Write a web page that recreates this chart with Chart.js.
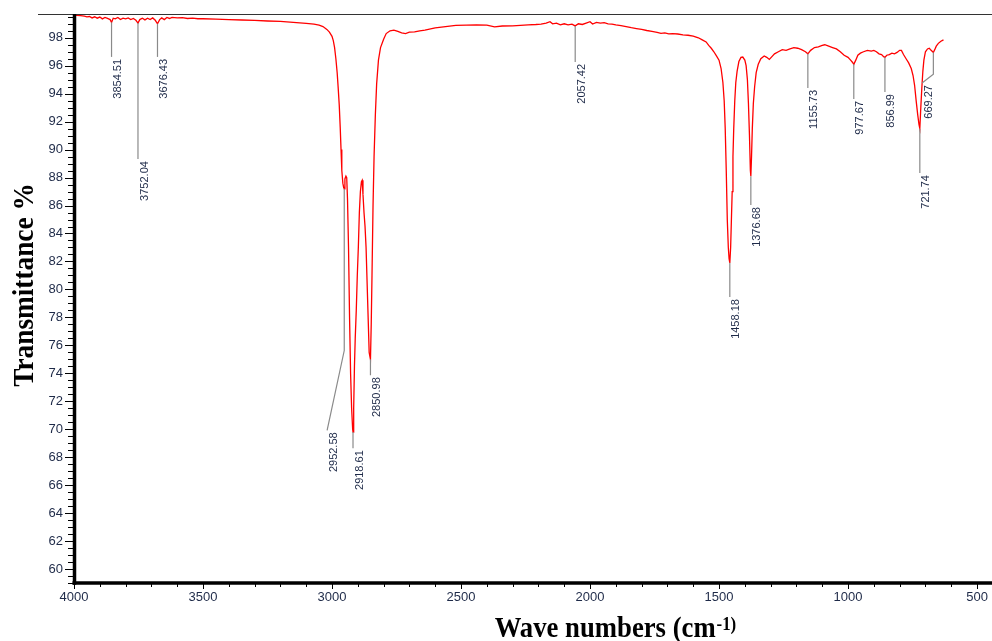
<!DOCTYPE html>
<html>
<head>
<meta charset="utf-8">
<script src="https://cdn.jsdelivr.net/npm/chart.js@4.4.1/dist/chart.umd.min.js"></script>
<style>
html,body{margin:0;padding:0;background:#fff;}
#wrap{width:992px;height:641px;position:relative;}
</style>
</head>
<body>
<div id="wrap"><canvas id="c" width="992" height="641"></canvas></div>
<script>
// ---- data ----
const waveNumbers = [
4000,3990,3975,3960,3950,3940,3930,3920,3910,3900,3890,3880,3870,3860,3854.51,3848,3840,3830,3820,3810,
3800,3790,3780,3770,3760,3752.04,3745,3735,3725,3715,3705,3695,3685,3676.43,3668,3660,3650,3640,3630,3620,
3600,3580,3560,3540,3520,3500,3450,3400,3350,3300,3250,3200,3150,3100,3070,3050,3035,3020,3010,3000,
2995,2990,2985,2980,2976,2972,2968,2965,2962,2958,2955,2952.58,2950,2946,2943,2940,2936,2932,2928,2924,
2920,2918.61,2916,2913,2910,2906,2902,2898,2894,2890,2886,2883,2880,2876,2872,2868,2864,2860,2856,2850.98,
2848,2845,2841,2837,2832,2827,2820,2812,2800,2790,2775,2760,2745,2730,2715,2700,2680,2660,2640,2600,
2560,2520,2480,2440,2400,2370,2340,2300,2270,2240,2210,2190,2170,2155,2145,2130,2115,2100,2085,2070,
2057.42,2045,2030,2015,2000,1990,1975,1960,1945,1930,1915,1900,1880,1860,1840,1820,1800,1780,1760,1740,
1725,1710,1695,1680,1660,1640,1620,1600,1580,1565,1550,1540,1530,1520,1510,1500,1492,1485,1480,1476,
1472,1468,1464,1461,1458.18,1455,1452,1449,1446,1443,1439,1435,1430,1423,1415,1408,1400,1395,1390,1386,
1382,1378.5,1376.68,1374,1371,1367,1362,1356,1348,1338,1325,1315,1305,1295,1285,1270,1255,1240,1225,1210,
1195,1180,1165,1155.73,1145,1130,1115,1100,1090,1075,1060,1045,1030,1015,1000,990,983,977.67,970,962,
952,940,925,910,900,890,880,870,862,856.99,850,840,830,820,810,800,793,785,775,765,
755,748,742,736,730,725,721.74,718,714,710,706,700,692,685,678,672,669.27,664,658,650,
640,630
];
const transmittance = [
99.62,99.60,99.58,99.55,99.50,99.52,99.42,99.50,99.40,99.48,99.35,99.45,99.38,99.30,99.10,99.40,99.35,99.45,99.30,99.40,
99.35,99.42,99.30,99.38,99.25,99.05,99.30,99.40,99.28,99.40,99.30,99.42,99.25,99.00,99.30,99.42,99.30,99.45,99.38,99.46,
99.42,99.44,99.38,99.40,99.36,99.36,99.33,99.30,99.27,99.24,99.20,99.17,99.10,99.03,98.97,98.90,98.80,98.60,98.40,98.10,
97.80,97.30,96.50,95.50,94.40,93.20,91.50,90.00,88.50,87.60,87.30,87.20,87.90,88.10,88.00,86.50,83.00,78.00,74.00,71.50,
70.00,69.80,71.50,74.50,76.50,78.50,81.00,83.00,85.50,87.00,87.70,87.80,86.80,85.50,84.50,83.00,80.50,78.00,75.50,75.00,
77.50,81.00,86.00,89.50,92.50,94.70,96.40,97.30,97.90,98.30,98.50,98.55,98.45,98.35,98.30,98.40,98.42,98.50,98.55,98.70,
98.80,98.88,98.90,98.92,98.90,98.78,98.84,98.85,98.88,98.92,98.95,98.98,99.05,99.15,99.00,99.05,98.92,99.00,98.93,98.98,
98.85,99.00,98.95,99.05,99.15,98.98,99.10,99.05,99.08,99.00,98.98,98.92,98.87,98.80,98.72,98.66,98.60,98.52,98.45,98.38,
98.32,98.35,98.28,98.30,98.27,98.20,98.18,98.12,98.00,97.85,97.70,97.45,97.25,97.00,96.70,96.40,95.80,94.80,93.50,91.50,
88.50,85.00,83.00,82.20,81.90,83.00,85.00,87.00,89.50,91.50,93.50,94.80,95.60,96.30,96.60,96.62,96.40,96.00,95.00,93.30,
91.00,88.50,88.10,89.50,91.50,93.30,94.50,95.50,96.10,96.50,96.70,96.60,96.45,96.65,96.85,97.00,97.15,97.10,97.20,97.30,
97.25,97.15,97.00,96.85,97.10,97.30,97.35,97.45,97.50,97.40,97.30,97.20,97.00,96.75,96.60,96.40,96.25,96.10,96.40,96.75,
96.90,97.00,97.10,97.05,97.10,97.00,96.85,96.80,96.65,96.60,96.75,96.80,96.90,96.85,96.95,97.10,97.10,96.80,96.50,96.20,
95.80,95.30,94.60,93.50,92.50,91.80,91.50,93.00,94.40,95.60,96.40,97.00,97.20,97.25,97.10,97.00,96.95,97.15,97.40,97.60,
97.75,97.85
];
const xTickValues = [4000,3500,3000,2500,2000,1500,1000,500];
const yTickValues = [60,62,64,66,68,70,72,74,76,78,80,82,84,86,88,90,92,94,96,98];
const peakWaves = [3854.51,3752.04,3676.43,2952.58,2918.61,2850.98,2057.42,1458.18,1376.68,1155.73,977.67,856.99,721.74,669.27];
const peakLabels = peakWaves.map(v => v.toFixed(2));
// transmittance where each peak's leader line ends
const peakLeaderEnds = [96.63,89.32,96.63,75.63,68.64,73.86,96.27,79.45,86.03,94.41,93.62,94.12,88.32,95.40];
// where each label hangs (wavenumber, transmittance)
const peakLabelWaves = [3854.51,3752.04,3676.43,3019,2918.61,2850.98,2057.42,1458.18,1376.68,1155.73,977.67,856.99,721.74,713];
const peakLabelTops  = [96.63,89.32,96.63,69.92,68.64,73.86,96.27,79.45,86.03,94.41,93.62,94.12,88.32,94.76];
const xTitle = 'Wave numbers (cm';
const xTitleSup = '-1)';
const yTitle = 'Transmittance %';

const points = waveNumbers.map((w, i) => ({x: w, y: transmittance[i]}));
const TXT = '#1e2a48';

function valueAt(w) {
  let best = 0, bd = Infinity;
  waveNumbers.forEach((v, i) => { const d = Math.abs(v - w); if (d < bd) { bd = d; best = i; } });
  return transmittance[best];
}

const framePlugin = {
  id: 'frame',
  afterDatasetsDraw(chart) {
    const ctx = chart.ctx, ca = chart.chartArea, xs = chart.scales.x, ys = chart.scales.y;
    ctx.save();
    // peak leader lines and labels
    ctx.font = '11px "Liberation Sans", Arial, sans-serif';
    peakWaves.forEach((w, i) => {
      const px = xs.getPixelForValue(w);
      const py0 = ys.getPixelForValue(valueAt(w));
      const py1 = ys.getPixelForValue(peakLeaderEnds[i]);
      const lx = xs.getPixelForValue(peakLabelWaves[i]);
      const ly = ys.getPixelForValue(peakLabelTops[i]);
      ctx.strokeStyle = '#8a8a8a';
      ctx.lineWidth = 1.2;
      ctx.beginPath();
      ctx.moveTo(px, py0);
      ctx.lineTo(px, py1);
      if (Math.abs(lx - px) > 0.5 || Math.abs(ly - py1) > 0.5) ctx.lineTo(lx, ly);
      ctx.stroke();
      ctx.save();
      ctx.translate(lx + 1, ly + 2);
      ctx.rotate(-Math.PI / 2);
      ctx.fillStyle = TXT;
      ctx.textAlign = 'right';
      ctx.textBaseline = 'top';
      ctx.fillText(peakLabels[i], 0, 0);
      ctx.restore();
    });
    // top border line
    ctx.strokeStyle = '#333';
    ctx.lineWidth = 1;
    ctx.beginPath();
    ctx.moveTo(38, Math.round(ca.top) + 0.5);
    ctx.lineTo(ca.right, Math.round(ca.top) + 0.5);
    ctx.stroke();
    // y ticks (major every 2, minor every 0.5)
    ctx.strokeStyle = '#000';
    ctx.lineWidth = 1;
    for (let v = Math.ceil(ys.min * 2) / 2; v <= ys.max; v += 0.5) {
      const y = Math.round(ys.getPixelForValue(v)) + 0.5;
      const len = (Math.abs(v % 2) < 1e-6) ? 9 : 6;
      ctx.beginPath();
      ctx.moveTo(ca.left - len, y);
      ctx.lineTo(ca.left, y);
      ctx.stroke();
    }
    // x ticks (major every 500, minor every 100)
    for (let w = 500; w <= 4000; w += 100) {
      if (w < xs.min) continue;
      const x = Math.round(xs.getPixelForValue(w)) + 0.5;
      const len = (w % 500 === 0) ? 6 : 4;
      ctx.beginPath();
      ctx.moveTo(x, ca.bottom);
      ctx.lineTo(x, ca.bottom + len);
      ctx.stroke();
    }
    // thick axis lines
    ctx.lineWidth = 3.5;
    ctx.beginPath();
    ctx.moveTo(ca.left + 0.5, ca.top);
    ctx.lineTo(ca.left + 0.5, ca.bottom + 1.75);
    ctx.stroke();
    ctx.beginPath();
    ctx.moveTo(ca.left - 1.5, ca.bottom);
    ctx.lineTo(ca.right, ca.bottom);
    ctx.stroke();
    // axis titles
    ctx.fillStyle = '#000';
    ctx.textBaseline = 'alphabetic';
    const big = 'bold 30px "Liberation Serif", "Times New Roman", serif';
    const small = 'bold 19px "Liberation Serif", "Times New Roman", serif';
    ctx.font = big;
    const w1 = ctx.measureText(xTitle).width;
    ctx.font = small;
    const w2 = ctx.measureText(xTitleSup).width;
    const sx = 0.89;
    const total = (w1 + w2) * sx;
    ctx.save();
    ctx.translate(615 - total / 2, 636.5);
    ctx.scale(sx, 1);
    ctx.textAlign = 'left';
    ctx.font = big;
    ctx.fillText(xTitle, 0, 0);
    ctx.font = small;
    ctx.fillText(xTitleSup, w1 + 1, -7);
    ctx.restore();
    ctx.save();
    ctx.translate(33, 285);
    ctx.rotate(-Math.PI / 2);
    ctx.scale(0.91, 1);
    ctx.font = big;
    ctx.textAlign = 'center';
    ctx.fillText(yTitle, 0, 0);
    ctx.restore();
    ctx.restore();
  }
};

new Chart(document.getElementById('c'), {
  type: 'line',
  data: {
    datasets: [{
      data: points,
      borderColor: '#ff0000',
      borderWidth: 1.3,
      pointRadius: 0,
      fill: false,
      tension: 0
    }]
  },
  options: {
    responsive: false,
    animation: false,
    devicePixelRatio: 1,
    layout: {padding: {top: 14, right: 0, left: 0, bottom: 0}},
    plugins: {legend: {display: false}, tooltip: {enabled: false}, title: {display: false}},
    scales: {
      x: {
        type: 'linear',
        reverse: true,
        min: 442,
        max: 4000,
        afterBuildTicks(scale) { scale.ticks = xTickValues.map(v => ({value: v})); },
        afterFit(scale) { scale.height = 58; scale.paddingLeft = 0; scale.paddingRight = 0; },
        grid: {display: false, drawTicks: false},
        border: {display: false},
        ticks: {
          autoSkip: false, maxRotation: 0, padding: 7, color: TXT,
          font: {family: '"Liberation Sans", Arial, sans-serif', size: 13},
          callback: v => String(v)
        }
      },
      y: {
        type: 'linear',
        min: 59.0,
        max: 99.7,
        afterBuildTicks(scale) { scale.ticks = yTickValues.map(v => ({value: v})); },
        afterFit(scale) { scale.width = 74; scale.paddingTop = 0; scale.paddingBottom = 0; },
        grid: {display: false, drawTicks: false},
        border: {display: false},
        ticks: {
          autoSkip: false, padding: 11, color: TXT,
          font: {family: '"Liberation Sans", Arial, sans-serif', size: 13},
          callback: v => String(v)
        }
      }
    }
  },
  plugins: [framePlugin]
});
</script>
</body>
</html>
